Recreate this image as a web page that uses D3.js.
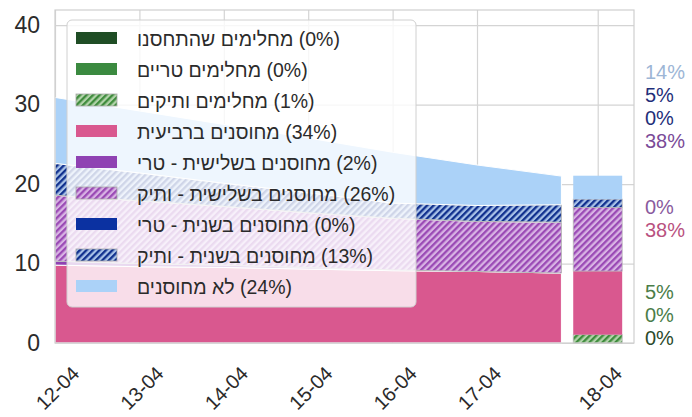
<!DOCTYPE html>
<html>
<head>
<meta charset="utf-8">
<script src="https://cdn.jsdelivr.net/npm/d3@7"></script>
<style>
	body { margin: 0; background: #ffffff; }
	svg { display: block; }
</style>
</head>
<body>
<div id="chart"></div>
<script>
"use strict";

// =============== DATA ===============
// x positions in days from 12-04 (area runs daily, bar sits apart on 18-04)
var areaDays = [0, 1, 2, 3, 4, 5, 6];
var barDay = 6.43;
var tickDays = [0, 1, 2, 3, 4, 5, barDay];
var tickLabels = ["12-04", "13-04", "14-04", "15-04", "16-04", "17-04", "18-04"];

// stack order, bottom to top (same as the legend, top to bottom)
var seriesKeys = ["recVac", "recFresh", "recVet", "quad", "thirdFresh", "thirdVet", "secondFresh", "secondVet", "unvax"];
var seriesNames = ["מחלימים שהתחסנו", "מחלימים טריים", "מחלימים ותיקים", "מחוסנים ברביעית",
	"מחוסנים בשלישית - טרי", "מחוסנים בשלישית - ותיק", "מחוסנים בשנית - טרי", "מחוסנים בשנית - ותיק", "לא מחוסנים"];
var legendPct = [0, 0, 1, 34, 2, 26, 0, 13, 24];

var recVac      = [0, 0, 0, 0, 0, 0, 0];
var recFresh    = [0, 0, 0, 0, 0, 0, 0];
var recVet      = [0, 0, 0, 0, 0, 0, 0];
var quad        = [9.8, 9.6, 9.5, 9.3, 9.1, 9.0, 8.8];
var thirdFresh  = [0.5, 0.4, 0.3, 0.2, 0.1, 0, 0];
var thirdVet    = [8.3, 7.9, 7.4, 6.9, 6.5, 6.3, 6.4];
var secondFresh = [0, 0, 0, 0, 0, 0, 0];
var secondVet   = [4.0, 3.5, 2.9, 2.5, 1.9, 2.0, 2.2];
var unvax       = [8.3, 7.8, 7.4, 6.9, 6.4, 5.1, 3.6];

// 18-04 bar, same order as seriesKeys
var barValues = [0, 0, 1.05, 8.0, 0, 8.0, 0, 1.05, 2.95];

var yTicks = [0, 10, 20, 30, 40];

// =============== STYLE ===============
var seriesStyle = {
	recVac:      {fill: "#1f4d25", label: "#2b4a2c"},
	recFresh:    {fill: "#3b8a40", label: "#4b7d49"},
	recVet:      {hatch: ["#3f8c3d", "#b2d3aa"], label: "#4b7d49"},
	quad:        {fill: "#d9588f", label: "#b9527f"},
	thirdFresh:  {fill: "#8f42b3", label: "#8a5a9e"},
	thirdVet:    {hatch: ["#9a4ab5", "#d8b3e4"], label: "#7a4b98"},
	secondFresh: {fill: "#0b31a1", label: "#1f2f7a"},
	secondVet:   {hatch: ["#10308e", "#a9c2e8"], label: "#1f2f7a"},
	unvax:       {fill: "#abd2f8", label: "#9db6d6"}
};

var width = 692, height = 417;
var margin = {left: 55, right: 58, top: 10, bottom: 74};
var plotW = width - margin.left - margin.right,
	plotH = height - margin.top - margin.bottom;
var barWidth = 0.58;
var fontFamily = "'Liberation Sans', Arial, 'DejaVu Sans', sans-serif";

// =============== BUILD ===============
var seriesData = {recVac: recVac, recFresh: recFresh, recVet: recVet, quad: quad, thirdFresh: thirdFresh,
	thirdVet: thirdVet, secondFresh: secondFresh, secondVet: secondVet, unvax: unvax};

var rows = areaDays.map(function(d, i){
	var r = {day: d};
	seriesKeys.forEach(function(k){ r[k] = seriesData[k][i]; });
	return r;
});
var barRow = {day: barDay};
seriesKeys.forEach(function(k, i){ barRow[k] = barValues[i]; });

var stack = d3.stack().keys(seriesKeys);
var areaLayers = stack(rows);
var barLayers = stack([barRow]);

var x = d3.scaleLinear().domain([0, 6.86]).range([0, plotW]);
var y = d3.scaleLinear().domain([0, 41.9]).range([plotH, 0]);

var svg = d3.select("#chart").append("svg")
	.attr("width", width)
	.attr("height", height)
	.style("font-family", fontFamily);

var defs = svg.append("defs");
function makeHatch(id, dark, light){
	var p = defs.append("pattern")
		.attr("id", id)
		.attr("patternUnits", "userSpaceOnUse")
		.attr("width", 4.6)
		.attr("height", 4.6)
		.attr("patternTransform", "rotate(45)");
	p.append("rect").attr("width", 4.6).attr("height", 4.6).attr("fill", light);
	p.append("rect").attr("width", 2.3).attr("height", 4.6).attr("fill", dark);
}
function fillOf(k){
	var s = seriesStyle[k];
	return s.hatch ? "url(#hatch-" + k + ")" : s.fill;
}
seriesKeys.forEach(function(k){
	var s = seriesStyle[k];
	if(s.hatch){ makeHatch("hatch-" + k, s.hatch[0], s.hatch[1]); }
});

var g = svg.append("g").attr("transform", "translate(" + margin.left + "," + margin.top + ")");

// grid + axes
var yAxis = g.append("g")
	.call(d3.axisLeft(y).tickValues(yTicks).tickSize(-plotW).tickPadding(15));
var xAxis = g.append("g")
	.attr("transform", "translate(0," + plotH + ")")
	.call(d3.axisBottom(x).tickValues(tickDays).tickSize(-plotH)
		.tickFormat(function(d, i){ return tickLabels[i]; }));

[yAxis, xAxis].forEach(function(a){
	a.select(".domain").remove();
	a.selectAll(".tick line").attr("stroke", "#d4d4d4").attr("stroke-width", 1.2);
	a.selectAll(".tick text")
		.attr("fill", "#2b2b2b")
		.style("font-size", "23px")
		.style("font-family", fontFamily);
});
xAxis.selectAll(".tick text")
	.style("font-size", "20px")
	.attr("x", 0)
	.attr("y", 0)
	.attr("dy", null)
	.attr("text-anchor", "middle")
	.attr("dominant-baseline", "central")
	.attr("transform", "translate(2,45) rotate(-45)");

// stacked areas
var area = d3.area()
	.x(function(d){ return x(d.data.day); })
	.y0(function(d){ return y(d[0]); })
	.y1(function(d){ return y(d[1]); });

g.append("g").selectAll("path")
	.data(areaLayers)
	.enter().append("path")
	.attr("d", area)
	.attr("fill", function(d){ return fillOf(d.key); })
	.attr("stroke", function(d){ return seriesStyle[d.key].hatch ? "#b8b8b8" : "#ffffff"; })
	.attr("stroke-width", 1);

// 18-04 bar
g.append("g").selectAll("rect")
	.data(barLayers)
	.enter().append("rect")
	.attr("x", function(d){ return x(d[0].data.day - barWidth / 2); })
	.attr("width", x(barWidth) - x(0))
	.attr("y", function(d){ return y(d[0][1]); })
	.attr("height", function(d){ return y(d[0][0]) - y(d[0][1]); })
	.attr("fill", function(d){ return fillOf(d.key); })
	.attr("stroke", function(d){ return seriesStyle[d.key].hatch ? "#b8b8b8" : "none"; })
	.attr("stroke-width", function(d){ return (d[0][1] - d[0][0]) > 0 ? 0.8 : 0; });

// frame
g.append("rect")
	.attr("width", plotW)
	.attr("height", plotH)
	.attr("fill", "none")
	.attr("stroke", "#cfcfcf")
	.attr("stroke-width", 1.2);

// percentages of the 18-04 bar, listed top to bottom
var barTotal = d3.sum(barValues);
var labelSlots = [72, 95, 118, 141, 207, 230, 292, 315, 338];
var labelOrder = seriesKeys.slice().reverse();
svg.append("g").selectAll("text")
	.data(labelOrder)
	.enter().append("text")
	.attr("x", 645)
	.attr("y", function(d, i){ return labelSlots[i]; })
	.attr("dominant-baseline", "central")
	.attr("fill", function(d){ return seriesStyle[d].label; })
	.style("font-size", "20px")
	.text(function(d){
		var v = barValues[seriesKeys.indexOf(d)];
		return Math.round(v / barTotal * 100) + "%";
	});

// legend
var legend = svg.append("g").attr("transform", "translate(67,20)");
legend.append("rect")
	.attr("width", 349)
	.attr("height", 287)
	.attr("rx", 5)
	.attr("fill", "#ffffff")
	.attr("fill-opacity", 0.8)
	.attr("stroke", "#d0d0d0")
	.attr("stroke-width", 1);

var items = legend.selectAll("g.item")
	.data(seriesKeys)
	.enter().append("g")
	.attr("class", "item")
	.attr("transform", function(d, i){ return "translate(0," + (18 + i * 31) + ")"; });

items.append("rect")
	.attr("x", 9)
	.attr("y", -6)
	.attr("width", 41)
	.attr("height", 12)
	.attr("fill", function(d){ return fillOf(d); })
	.attr("stroke", function(d){ return seriesStyle[d].hatch ? "#a8a8a8" : "none"; })
	.attr("stroke-width", 0.8);

items.append("text")
	.attr("x", 70)
	.attr("y", 1)
	.attr("dominant-baseline", "central")
	.attr("fill", "#2b2b2b")
	.style("font-size", "19.5px")
	.text(function(d, i){ return seriesNames[i] + "\u200E (" + legendPct[i] + "%)"; });
</script>
</body>
</html>
